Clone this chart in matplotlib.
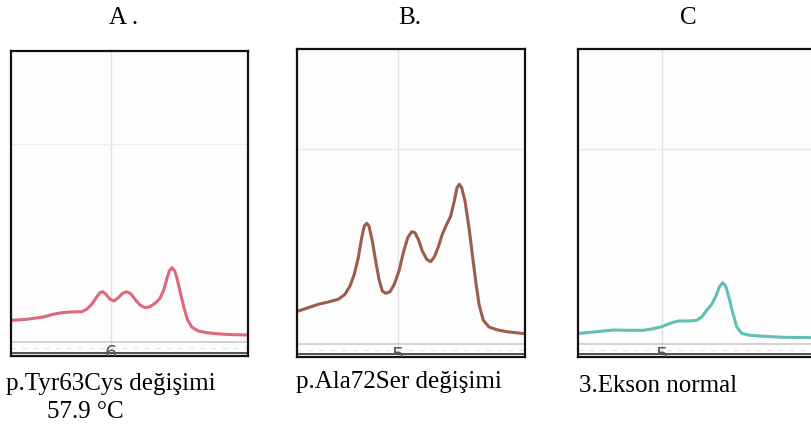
import matplotlib
matplotlib.use("Agg")
import matplotlib.pyplot as plt

W, H = 811, 428

# melt curves (x from box left, y above box bottom, in px units)
a_x = [0.7, 15.7, 32.3, 42.3, 50.7, 60.7, 70.7, 75.7, 80.7, 85.7, 89, 91.7, 95, 99, 103,
       107.3, 111.7, 115.7, 119.7, 124, 129, 134, 139, 144, 149, 153, 155.7, 158.3, 161,
       163.7, 166.3, 169.7, 173, 176.3, 180.7, 187.3, 195.7, 209, 222.3, 237]
a_y = [35.7, 36.7, 39, 41.7, 43.3, 44, 44.3, 46.7, 51.7, 59, 63.3, 64.3, 61.7, 56.7, 55,
       58.3, 62.7, 64.3, 62.3, 56.7, 51, 48.3, 49.3, 52.7, 57.7, 66.7, 76.7, 85, 88.3,
       85, 76.7, 61.7, 48.3, 36.7, 29, 25, 23.3, 22, 21.3, 21]

b_x = [1.3, 11.3, 21.3, 31.3, 41.3, 48, 53, 57.3, 61.3, 64.7, 67.3, 69.7, 72, 75.3, 78.7,
       82, 85.3, 88.7, 93, 97.3, 102, 106.3, 110.7, 114.7, 118, 121.3, 125.3, 129.7,
       133.7, 137.3, 141.3, 145.3, 149.7, 153.7, 157.3, 160, 162.3, 164.7, 168, 172,
       175.3, 178.7, 182, 186.3, 192, 199.7, 209.7, 228]
b_y = [46, 49.3, 52.7, 55, 57.7, 62.7, 71, 82.7, 99.3, 119.3, 131, 133.7, 131, 116, 96,
       77.7, 66, 63.7, 65.3, 72.7, 86, 104.3, 119.3, 125.3, 124.3, 117.7, 106, 97.7,
       95.3, 100, 110, 122.7, 132.7, 141, 156, 169.3, 172.7, 169.3, 156, 129.3,
       102.7, 76, 52.7, 36.7, 30, 27.3, 25.3, 23.3]

c_x = [2, 18.7, 35.3, 48.7, 65.3, 75.3, 83.7, 92, 100.3, 110.3, 118.7, 123.7, 128.7,
       133.7, 138, 141.3, 144.7, 147.7, 151, 154.7, 158.7, 163.7, 172, 185.3, 205.3, 240]
c_y = [23.7, 25.3, 27, 26.7, 26.7, 28.3, 30.3, 33.7, 36, 36, 36.7, 40, 46.7, 52.7, 61,
       70, 74.3, 71, 59.3, 44.3, 30.3, 23.7, 21.7, 20.7, 19.7, 19.3]

titles = ["A .", "B.", "C"]
tick_labels = ["6", "5", "5"]
captions = ["p.Tyr63Cys değişimi", "p.Ala72Ser değişimi", "3.Ekson normal"]
colors = ["#e0677c", "#9c5e4c", "#62bfb4"]

# panel boxes in figure pixels: left, top, right, bottom
boxes = [(11, 51, 248, 356), (297, 49, 525, 357), (578, 49, 818, 357)]
grid_x = [100, 101, 84]
grid_y = [212, 208, 208]
base_y = [14, 13, 13]

fig = plt.figure(figsize=(W / 100, H / 100), dpi=100)
serif = "Liberation Serif"

curves = [(a_x, a_y), (b_x, b_y), (c_x, c_y)]
for i, (l, t, r, b) in enumerate(boxes):
    ax = fig.add_axes([l / W, 1 - b / H, (r - l) / W, (b - t) / H])
    ax.set_xlim(0, r - l)
    ax.set_ylim(0, b - t)
    ax.set_facecolor("#fdfdfd")
    ax.axvline(grid_x[i], color="#e2e2e2", lw=1)
    ax.axhline(grid_y[i], color="#ececec", lw=1)
    ax.axhline(base_y[i], color="#cfcfcf", lw=1.3)
    ax.axhline(base_y[i] - 6, color="#e0e0e0", lw=0.8, ls=(0, (4, 6)))
    ax.plot(curves[i][0], curves[i][1], color=colors[i], lw=2.2,
            solid_joinstyle="round", solid_capstyle="round")
    ax.text(grid_x[i], base_y[i] - 2, tick_labels[i], ha="center", va="top",
            fontsize=14, color="#555555", clip_on=True)
    ax.axhline(3.5, color="#333333", lw=1.2)
    ax.set_xticks([])
    ax.set_yticks([])
    for s in ax.spines.values():
        s.set_linewidth(1.6)
        s.set_color("#111111")

title_x = [124, 410, 688]
for tx, tt in zip(title_x, titles):
    fig.text(tx / W, 1 - 18 / H, tt, ha="center", va="center", fontsize=18, family=serif)

fig.text(6 / W, 1 - 384 / H, captions[0], ha="left", va="center", fontsize=18, family=serif)
fig.text(47 / W, 1 - 412 / H, "57.9 °C", ha="left", va="center", fontsize=18, family=serif)
fig.text(296 / W, 1 - 382 / H, captions[1], ha="left", va="center", fontsize=18, family=serif)
fig.text(579 / W, 1 - 386 / H, captions[2], ha="left", va="center", fontsize=18, family=serif)

fig.savefig("out.png", dpi=100, facecolor="white")
